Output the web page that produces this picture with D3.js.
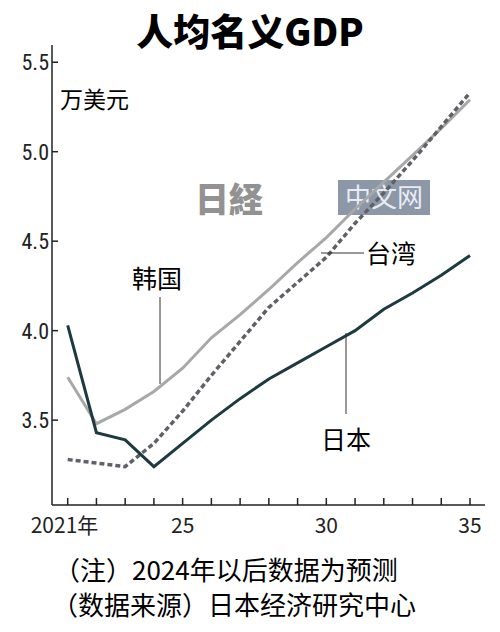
<!DOCTYPE html>
<html><head><meta charset="utf-8">
<script src="https://cdn.jsdelivr.net/npm/d3@7"></script>
<style>body{margin:0;background:#fff}</style></head>
<body><svg id="c" width="500" height="632"></svg>
<script>
const years = [2021,2022,2023,2024,2025,2026,2027,2028,2029,2030,2031,2032,2033,2034,2035];
const japan = [4.03,3.43,3.39,3.24,3.37,3.5,3.62,3.73,3.82,3.91,4.0,4.12,4.21,4.31,4.42];
const korea = [3.74,3.48,3.56,3.66,3.79,3.96,4.09,4.23,4.38,4.52,4.68,4.83,4.98,5.13,5.29];
const taiwan = [3.28,3.26,3.24,3.37,3.55,3.75,3.94,4.13,4.27,4.41,4.6,4.77,4.95,5.14,5.33];
const yTicks = [3.5,4.0,4.5,5.0,5.5];
const xTickLabels = [[2021,"2021年"],[2025,"25"],[2030,"30"],[2035,"35"]];
const F = "'Noto Sans CJK SC', sans-serif";
const svg = d3.select("#c");
const x = d3.scaleLinear().domain([2021,2035]).range([67.7,470]);
const y = d3.scaleLinear().domain([3.0,5.0]).range([509.6,151.7]);
const axisY = 505, axisX = 52;
svg.append("text").attr("x",250).attr("y",46).attr("text-anchor","middle").attr("font-family",F).attr("font-weight","900").attr("font-size",37).text("人均名义GDP");
svg.append("text").attr("x",195).attr("y",212).attr("font-family",F).attr("font-weight","900").attr("font-size",34).attr("fill","#777").attr("opacity",0.8).text("日経");
svg.append("rect").attr("x",338).attr("y",180).attr("width",92).attr("height",35).attr("fill","#8c97a8");
svg.append("text").attr("x",384).attr("y",207).attr("text-anchor","middle").attr("font-family",F).attr("font-size",26).attr("fill","#e8ecf2").text("中文网");
svg.append("line").attr("x1",axisX).attr("x2",axisX).attr("y1",45).attr("y2",axisY).attr("stroke","#222").attr("stroke-width",1.5);
svg.append("line").attr("x1",axisX).attr("x2",485).attr("y1",axisY).attr("y2",axisY).attr("stroke","#222").attr("stroke-width",1.5);
svg.selectAll(".yt").data(yTicks).join("line").attr("x1",axisX).attr("x2",axisX+6).attr("y1",d=>y(d)).attr("y2",d=>y(d)).attr("stroke","#222").attr("stroke-width",1.5);
svg.selectAll(".yl").data(yTicks).join("text").attr("x",axisX-3).attr("y",d=>y(d)+8).attr("text-anchor","end").attr("font-family","'Roboto Condensed','Liberation Sans Narrow',Roboto,sans-serif").attr("font-size",22).attr("fill","#222").text(d=>d.toFixed(1));
svg.selectAll(".xt").data(years).join("line").attr("x1",d=>x(d)).attr("x2",d=>x(d)).attr("y1",axisY).attr("y2",axisY-7).attr("stroke","#222").attr("stroke-width",1.5);
svg.selectAll(".xl").data(xTickLabels).join("text").attr("x",d=>x(d[0])).attr("y",533).attr("text-anchor",d=>d[0]===2021?"start":"middle").attr("dx",d=>d[0]===2021?-37:0).attr("font-family",F).attr("font-size",21).attr("fill","#222").text(d=>d[1]);
svg.append("text").attr("x",60).attr("y",108).attr("font-family",F).attr("font-size",23).text("万美元");
const line = d3.line().x((d,i)=>x(years[i])).y(d=>y(d));
svg.append("path").attr("d",line(korea)).attr("fill","none").attr("stroke","#a8a8a8").attr("stroke-width",3);
svg.append("path").attr("d",line(taiwan)).attr("fill","none").attr("stroke","#5f6166").attr("stroke-width",3.5).attr("stroke-dasharray","5,3");
svg.append("path").attr("d",line(japan)).attr("fill","none").attr("stroke","#1d3a40").attr("stroke-width",3);
svg.append("line").attr("x1",160).attr("x2",160).attr("y1",297).attr("y2",384).attr("stroke","#333");
svg.append("text").attr("x",132).attr("y",288).attr("font-family",F).attr("font-size",25).text("韩国");
svg.append("line").attr("x1",321).attr("x2",364).attr("y1",253).attr("y2",253).attr("stroke","#333");
svg.append("text").attr("x",366).attr("y",263).attr("font-family",F).attr("font-size",25).text("台湾");
svg.append("line").attr("x1",346).attr("x2",346).attr("y1",333).attr("y2",414).attr("stroke","#333");
svg.append("text").attr("x",321).attr("y",449).attr("font-family",F).attr("font-size",25).text("日本");
svg.append("text").attr("x",54).attr("y",580).attr("font-family",F).attr("font-size",26).text("（注）2024年以后数据为预测");
svg.append("text").attr("x",52).attr("y",615).attr("font-family",F).attr("font-size",26).text("（数据来源）日本经济研究中心");
</script></body></html>
